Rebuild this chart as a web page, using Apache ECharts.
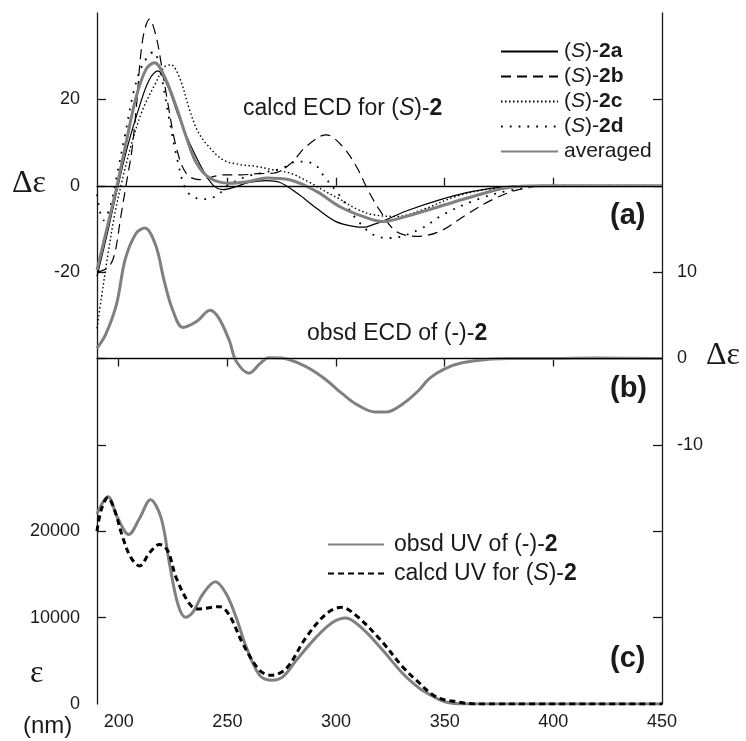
<!DOCTYPE html>
<html>
<head>
<meta charset="utf-8">
<script src="https://cdn.jsdelivr.net/npm/echarts@6/dist/echarts.min.js"></script>
<style>
  html, body { margin: 0; padding: 0; background: #fff; }
  #chart { width: 746px; height: 741px; }
</style>
</head>
<body>
<div id="chart"></div>
<script>
// wavelength (nm) vs value

// (a) calcd ECD, delta-epsilon
const calc2a = [[190,-21],[195,-10.5],[199,-1.5],[204,9],[209.6,18.5],[214,24.5],[218,26.6],[222.6,23],[227,16.8],[232.6,9.9],[238.7,3.7],[243.3,0.2],[248,-0.9],[254,-0.2],[260,0.8],[268,1.2],[274,0.8],[282,-1.7],[291,-5.2],[300,-8.3],[308,-9.4],[313,-9.6],[317,-9.0],[323,-7.9],[332,-5.9],[348,-3.2],[363,-1.3],[378,-0.2],[390,0],[450,0]];
const calc2b = [[190,-20],[195,-19],[198,-16],[201,-7],[204,2],[206,8],[208,17.6],[211,33.8],[214.2,38.6],[217.2,34.6],[219.5,28.4],[222.6,19.1],[226.4,9.1],[231,2.9],[237,1.4],[248,2.5],[256,2.5],[264,2.8],[271,2.9],[278.6,4.9],[286.3,9.1],[295.5,11.8],[303,9.1],[309.3,4.5],[314.6,-0.9],[320,-5.6],[327.7,-10.6],[337,-11.7],[347.6,-10.6],[360,-6.7],[372,-3.2],[384,-0.9],[398,0],[450,0]];
const calc2c = [[190,-33],[192,-26],[195,-16],[198,-7],[201,0],[206,9.9],[211,17.6],[217,23.8],[221,27.5],[224,28],[228,25],[232.6,17.6],[236,13],[240,9.9],[248,6],[256,4.9],[263,4.5],[271,3.7],[279,2.9],[287,1],[294,-1],[302,-3.2],[310,-5.5],[317,-6.7],[328,-7.1],[340,-5.5],[355,-2.5],[370,-0.8],[390,0],[450,0]];
const calc2d = [[190,-2],[193,-8],[196,-5],[199,2],[203,12],[207,22],[211,28],[216,31],[219,27],[223,16],[227,6],[231,-1],[236,-2.9],[240,-3.1],[245.6,-2.1],[250,0],[258,2],[266,3],[275,4],[282,5.6],[290,5],[294,2.5],[302,-2.5],[309,-7.5],[317,-11.3],[325,-12.1],[338,-10.2],[350,-6.5],[366,-3],[381,-1],[400,0],[450,0]];
const calcAvg = [[190,-19.5],[195,-9],[199,-0.5],[203,9],[208,20.5],[212.6,27],[216.5,28.5],[221,25.3],[226.4,18.4],[231,11.4],[235.7,5.3],[241.8,1.8],[251,0.6],[260,1.0],[268,1.8],[278.6,1.4],[291,-1.3],[301.6,-4.8],[312.3,-7.1],[321.5,-8.3],[332.3,-7.1],[347.6,-4.8],[363,-2.5],[378,-0.5],[394,0],[450,0]];

// (b) obsd ECD
const obsECD = [[190,1.2],[194,2.8],[199,6.3],[203,11.5],[208,14.5],[212,15.1],[217,13.1],[221,8.9],[225,5.5],[229.5,3.6],[236,4.3],[242,5.6],[246,4.7],[251,2.0],[254,-0.3],[260,-1.7],[265,-0.6],[269,0.1],[275,0.05],[285,-0.8],[294,-2.2],[303,-4.1],[310,-5.4],[318,-6.2],[323,-6.2],[331,-5.2],[338,-3.7],[343,-2.3],[350,-1.2],[358,-0.5],[370,-0.1],[380,0],[400,0],[420,0.05],[450,0]];

// (c) UV, epsilon
const obsUV = [[190,22000],[195,24000],[199.6,21500],[204.6,19630],[209.6,21500],[214.6,23650],[219.5,21540],[223.4,16180],[227.2,11580],[230.7,10040],[234.1,10620],[238.7,12730],[244.5,14145],[249.5,12730],[254,10040],[258.7,6590],[264.8,3335],[270.2,2760],[275.5,3140],[281.7,5060],[290.9,7740],[298.5,9465],[304.4,9970],[312.3,8700],[321.5,6210],[330.7,3530],[338.4,1805],[342,1265],[350,265],[360,0],[450,0]];
const calcUV = [[190,20000],[192,22500],[195,23900],[198,22500],[201.9,19240],[205.5,17000],[209.6,15985],[214.2,17515],[218.8,18480],[222.6,17710],[226.4,14640],[232.6,11580],[236.4,11005],[246.4,11270],[251,10235],[257.1,6980],[264.8,3910],[270.2,3335],[277.1,4100],[286.3,7740],[295.5,10430],[302.4,11190],[309.3,10235],[320,7555],[330.7,4290],[336.9,2760],[346,840],[355.3,265],[365,0],[450,0]];

// tick values
const xTicks = [200, 250, 300, 350, 400];
const xLabels = [200, 250, 300, 350, 400, 450];
const aTicks = [-100, -80, -60, -40, -20, 0, 20];
const aLabels = [-20, 0, 20];
const bTicks = [-30, -20, -10, 10, 20, 30];
const bLabels = [-10, 0, 10];
const cLabels = [0, 10000, 20000];

const SANS = 'Liberation Sans, Arial, sans-serif';
const SERIF = 'Liberation Serif, Times New Roman, serif';
const GRAY = '#808080';
const INK = '#1a1a1a';

const legendNames = {
    '(S)-2a': '({i|S})-{b|2a}',
    '(S)-2b': '({i|S})-{b|2b}',
    '(S)-2c': '({i|S})-{b|2c}',
    '(S)-2d': '({i|S})-{b|2d}',
    'averaged': 'averaged',
    'obsd UV of (-)-2': 'obsd UV of (-)-{b|2}',
    'calcd UV for (S)-2': 'calcd UV for ({i|S})-{b|2}'
};

function rich(size) {
    return {
        i: {fontStyle: 'italic', fontSize: size, fontFamily: SANS, color: INK},
        b: {fontWeight: 'bold', fontSize: size, fontFamily: SANS, color: INK}
    };
}

const plain = v => String(v);
const axisLine = {show: true, lineStyle: {color: INK, width: 1.3}};
const zeroLine = {
    silent: true,
    symbol: 'none',
    label: {show: false},
    lineStyle: {color: '#000', width: 1, type: 'solid'},
    data: [{yAxis: 0}]
};

function lineSeries(name, data, yIdx, style, extra) {
    return Object.assign({
        name: name,
        type: 'line',
        data: data,
        xAxisIndex: 0,
        yAxisIndex: yIdx,
        smooth: 0.35,
        symbol: 'none',
        lineStyle: style,
        itemStyle: {color: style.color},
        animation: false
    }, extra || {});
}

const chart = echarts.init(document.getElementById('chart'), null, {renderer: 'canvas'});
chart.setOption({
    backgroundColor: '#fff',
    animation: false,
    grid: {left: 97, right: 84, top: 13, bottom: 37},
    xAxis: [{
        type: 'value', min: 190, max: 450, position: 'bottom',
        axisLine: axisLine,
        axisTick: {show: true, inside: true, length: 8, customValues: xTicks, lineStyle: {color: INK, width: 1.3}},
        axisLabel: {show: true, customValues: xLabels, formatter: plain, margin: 9, fontSize: 18, fontFamily: SANS, color: INK},
        splitLine: {show: false}
    }, {
        type: 'value', min: 190, max: 450, position: 'top',
        axisLine: axisLine,
        axisTick: {show: true, inside: true, length: 8, customValues: xTicks, lineStyle: {color: INK, width: 1.3}},
        axisLabel: {show: false},
        splitLine: {show: false}
    }],
    yAxis: [{
        // (a) calcd ECD
        type: 'value', min: -120, max: 40, position: 'left',
        axisLine: axisLine,
        axisTick: {show: true, inside: true, length: 9, customValues: aTicks, lineStyle: {color: INK, width: 1.3}},
        axisLabel: {show: true, customValues: aLabels, formatter: plain, margin: 17, fontSize: 18, fontFamily: SANS, color: INK},
        splitLine: {show: false}
    }, {
        // (b) obsd ECD
        type: 'value', min: -40, max: 40, position: 'right',
        axisLine: axisLine,
        axisTick: {show: true, inside: true, length: 9, customValues: bTicks, lineStyle: {color: INK, width: 1.3}},
        axisLabel: {show: true, customValues: bLabels, formatter: plain, margin: 15, fontSize: 18, fontFamily: SANS, color: INK},
        splitLine: {show: false}
    }, {
        // (c) UV
        type: 'value', min: 0, max: 80000, position: 'left',
        axisLine: {show: false},
        axisTick: {show: false},
        axisLabel: {show: true, customValues: cLabels, formatter: plain, margin: 17, fontSize: 18, fontFamily: SANS, color: INK},
        splitLine: {show: false}
    }],
    legend: [{
        orient: 'vertical', left: 495, top: 36,
        itemWidth: 57, itemHeight: 14, itemGap: 4,
        data: ['(S)-2a', '(S)-2b', '(S)-2c', '(S)-2d', 'averaged'],
        formatter: n => legendNames[n],
        itemStyle: {opacity: 0},
        textStyle: {fontSize: 21, fontFamily: SANS, color: INK, padding: [0, 0, 0, 1], rich: rich(21)},
        selectedMode: false
    }, {
        orient: 'vertical', left: 322, top: 528,
        itemWidth: 56, itemHeight: 14, itemGap: 6,
        data: ['obsd UV of (-)-2', 'calcd UV for (S)-2'],
        formatter: n => legendNames[n],
        itemStyle: {opacity: 0},
        textStyle: {fontSize: 23, fontFamily: SANS, color: INK, padding: [0, 0, 0, 5], rich: rich(23)},
        selectedMode: false
    }],
    series: [
        lineSeries('(S)-2a', calc2a, 0, {color: '#000', width: 1.2, type: 'solid'}),
        lineSeries('(S)-2b', calc2b, 0, {color: '#000', width: 1.2, type: [10, 6]}),
        lineSeries('(S)-2c', calc2c, 0, {color: '#000', width: 1.4, type: [1.5, 2.5]}),
        lineSeries('(S)-2d', calc2d, 0, {color: '#000', width: 1.8, type: [1.8, 7]}),
        lineSeries('averaged', calcAvg, 0, {color: GRAY, width: 3, type: 'solid'}, {markLine: zeroLine}),
        lineSeries('obsd ECD of (-)-2', obsECD, 1, {color: GRAY, width: 3, type: 'solid'}, {markLine: zeroLine}),
        lineSeries('obsd UV of (-)-2', obsUV, 2, {color: GRAY, width: 3, type: 'solid'}),
        lineSeries('calcd UV for (S)-2', calcUV, 2, {color: '#000', width: 3, type: [6, 4]})
    ],
    graphic: [
        {type: 'text', left: 12, top: 168, style: {text: 'Δε', font: '32px ' + SERIF, fill: INK}},
        {type: 'text', left: 706, top: 340, style: {text: 'Δε', font: '32px ' + SERIF, fill: INK}},
        {type: 'text', left: 30, top: 658, style: {text: 'ε', font: '32px ' + SERIF, fill: INK}},
        {type: 'text', left: 23, top: 714, style: {text: '(nm)', font: '24px ' + SANS, fill: INK}},
        {type: 'text', left: 243, top: 97, style: {
            text: 'calcd ECD for ({i|S})-{b|2}', fontSize: 23, fontFamily: SANS, fill: INK, rich: rich(23)}},
        {type: 'text', left: 307, top: 322, style: {
            text: 'obsd ECD of (-)-{b|2}', fontSize: 23, fontFamily: SANS, fill: INK, rich: rich(23)}},
        {type: 'text', left: 610, top: 201, style: {text: '(a)', font: 'bold 29px ' + SANS, fill: INK}},
        {type: 'text', left: 610, top: 374, style: {text: '(b)', font: 'bold 29px ' + SANS, fill: INK}},
        {type: 'text', left: 610, top: 644, style: {text: '(c)', font: 'bold 29px ' + SANS, fill: INK}}
    ]
});
</script>
</body>
</html>
